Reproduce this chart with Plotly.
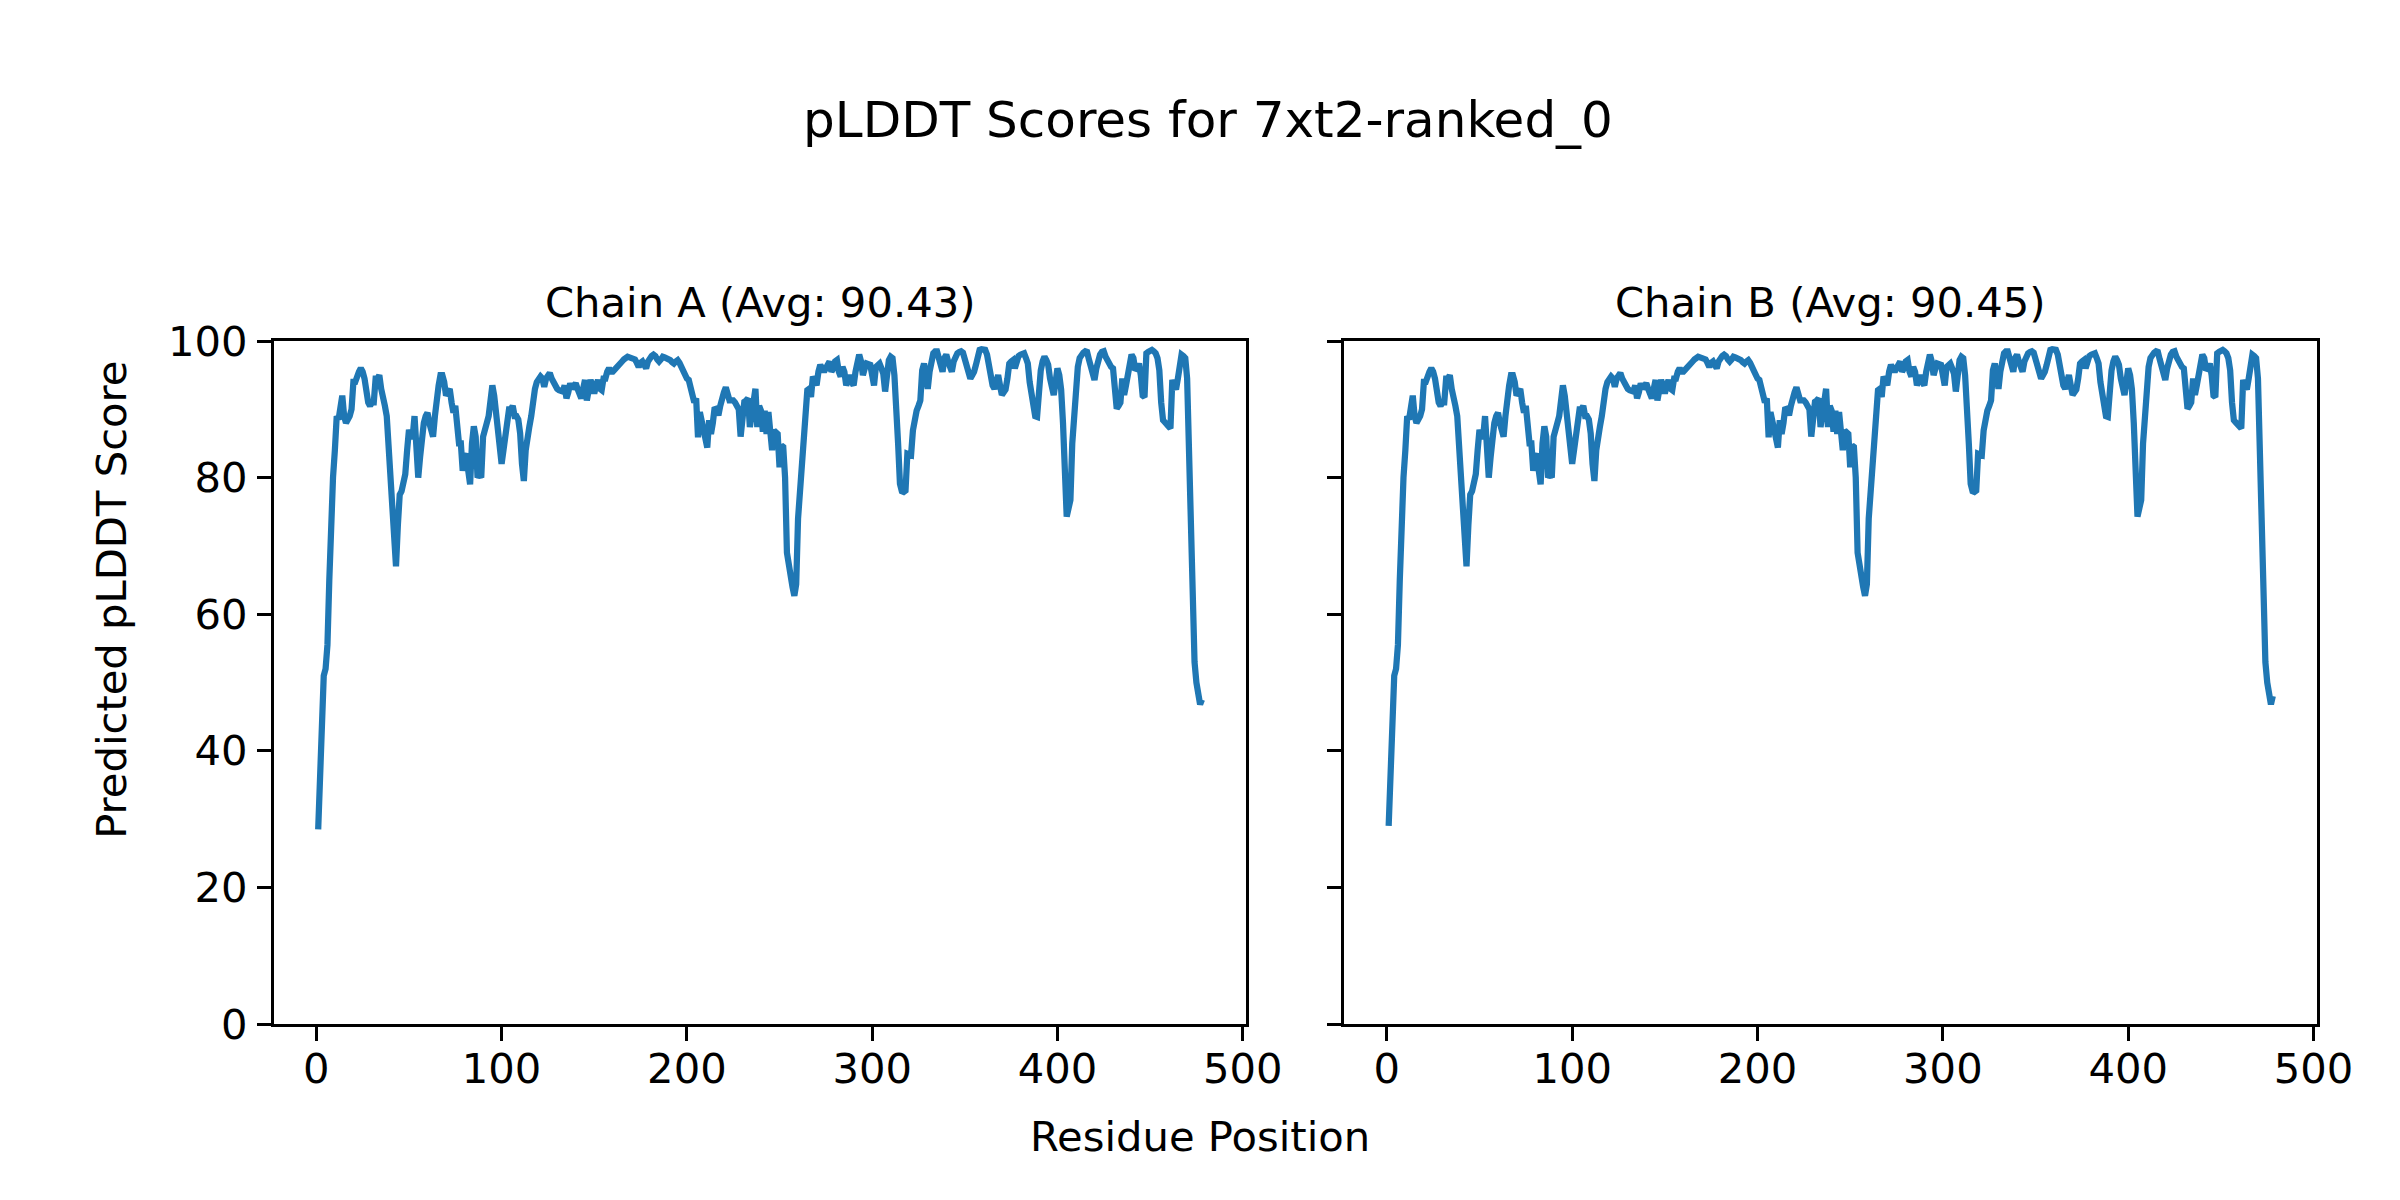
import plotly.graph_objects as go

# pLDDT per residue (residues 1..478)
chain_a_scores = [
    28.5, 37, 47, 51, 52, 55.5, 65, 76, 80, 84,
    89, 88.5, 90, 92, 89, 88, 88.5, 89, 90, 94,
    94, 95, 95.5, 96, 95.5, 94.5, 92, 91, 90.5, 91,
    91, 94.5, 94.5, 95, 93, 91, 90.5, 89, 85, 81,
    76, 71, 67, 73, 77.5, 78, 79, 80.5, 84, 87,
    86, 86, 89, 82, 80, 83, 87, 88, 89, 89.5,
    88, 86.5, 86, 89, 92, 93.5, 95, 95, 94, 92,
    92.5, 93, 91, 89.5, 90.5, 87, 85, 85, 81, 83,
    83.5, 81, 79, 85, 87.5, 86, 80, 80.5, 80, 86,
    87.5, 88, 89, 92.5, 93.5, 92, 89, 86, 83, 82,
    84, 86, 89.5, 90, 90, 90.5, 89, 89, 88.5, 86.5,
    82, 79.5, 84, 87, 87.5, 89, 91.5, 93, 94, 94.5,
    94.8, 94.5, 93.3, 94.5, 95, 95.3, 94.5, 93.8, 93.3, 93,
    92.8, 92.8, 92.6, 93.5, 91.6, 92.5, 93.8, 93, 93.3, 93.8,
    93, 92.5, 91.6, 93, 94.3, 91.3, 92.5, 94.3, 93.5, 92.3,
    93.5, 94.3, 93, 92.8, 94.5, 94.5, 95.5, 96, 95.5, 95.5,
    95.8, 96.2, 96.5, 97, 97, 97.3, 97.6, 97.7, 97.6, 97.5,
    97.5, 97.3, 96.8, 96.2, 96.8, 97, 96.5, 96, 97, 97.5,
    97.8, 98, 97.8, 97.3, 97, 97.3, 97.7, 97.6, 97.5, 97.5,
    97.2, 96.9, 96.7, 97, 97.2, 96.8, 96.2, 95.8, 94.8, 94.5,
    94.3, 93, 91.3, 91, 91.6, 85.9, 89.6, 88, 86.4, 85,
    84.4, 88.4, 86.4, 88, 90.3, 90, 89.1, 90.5, 91.8, 92.5,
    93.2, 92, 91.3, 91.3, 91.3, 91, 90.6, 90, 86, 88,
    91.1, 91.3, 91.6, 87.4, 89.5, 91, 93, 87.4, 90.5, 89.8,
    86.7, 89.8, 86.4, 89.6, 87, 84, 86.9, 86.5, 86.4, 81.5,
    84.7, 84.5, 80, 69, 67, 65.5, 64, 62.7, 64.4, 74,
    78.5, 80.6, 86.9, 91, 92.8, 93, 91.8, 94.8, 94, 93.5,
    95.5, 96.5, 96, 95.5, 96, 96.5, 97, 95.5, 96, 97,
    97.2, 95.5, 94.8, 96.2, 95.5, 93.5, 94.5, 95, 94, 93.5,
    95.5, 97.5, 98, 97, 95, 96, 96.7, 96.6, 96.5, 95,
    93.5, 96.2, 96.5, 96.7, 96, 95.2, 92.6, 95.5, 97.2, 97.7,
    97.5, 95, 91.3, 85, 79.1, 78, 77.9, 78.1, 83.5, 83.5,
    83.3, 86.9, 89, 89.8, 90.5, 91.3, 95.7, 96.7, 95, 93,
    95.5, 97.7, 98.2, 98.5, 98.5, 97.5, 96, 95.5, 97.5, 98,
    97, 96, 95.5, 97, 98, 98.2, 98.4, 98.5, 98.3, 97.5,
    96.7, 95.5, 94.5, 95, 95.5, 96.5, 97.8, 98.7, 98.8, 98.8,
    98.7, 98, 96.5, 94.3, 93.5, 93, 94.5, 95, 93.5, 92.1,
    92.5, 92.9, 94.5, 96.7, 97, 97.2, 96, 97, 97.8, 98,
    98.2, 98.2, 97.5, 96.7, 94, 91.8, 90, 89, 88.9, 93,
    95.7, 97, 97.7, 97.2, 96.5, 94.5, 93, 92.1, 94, 96,
    95, 92.9, 88, 80, 74.3, 75.5, 76.7, 85, 89.4, 93.5,
    96.2, 97.5, 98, 98.3, 98.5, 98.4, 97.3, 96, 94.5, 94.3,
    96, 97.2, 98, 98.4, 98.5, 97.7, 97, 96.5, 96.2, 96,
    93, 90.1, 90.5, 91, 94.5, 92.1, 93.5, 95.2, 97, 98,
    97.5, 95.7, 96, 96.7, 95, 92, 91.8, 98.2, 98.4, 98.6,
    98.7, 98.5, 98.2, 97.5, 95.7, 91, 88.4, 88.1, 87.9, 87.5,
    87.2, 94.3, 93.5, 92.9, 94.5, 97, 98, 97.8, 97.5, 94.5,
    83, 70, 60, 53, 50, 47.5, 46.8, 47.5,
]

# Chain B reads identical to chain A except at the two ends
chain_b_scores = list(chain_a_scores)
chain_b_scores[0] = 29.0
chain_b_scores[-1] = 48.0

residues = list(range(1, len(chain_a_scores) + 1))

chain_titles = ["Chain A (Avg: 90.43)", "Chain B (Avg: 90.45)"]
main_title = "pLDDT Scores for 7xt2-ranked_0"
x_label = "Residue Position"
y_label = "Predicted pLDDT Score"
x_ticks = [0, 100, 200, 300, 400, 500]
y_ticks = [0, 20, 40, 60, 80, 100]

FONT = "DejaVu Sans"
FS = 41.7
FS_TITLE = 50
LINE_COLOR = "#1f77b4"

fig = go.Figure()
fig.add_trace(go.Scatter(x=residues, y=chain_a_scores, mode="lines",
                         line=dict(color=LINE_COLOR, width=6.25),
                         xaxis="x", yaxis="y", showlegend=False))
fig.add_trace(go.Scatter(x=residues, y=chain_b_scores, mode="lines",
                         line=dict(color=LINE_COLOR, width=6.25),
                         xaxis="x2", yaxis="y2", showlegend=False))

OFF = 8  # page body offset
L, R, T, B = 274 - OFF, 2316.7 - OFF, 341 - OFF, 1024.3 - OFF
W = R - L
H = B - T
xa_dom = [0, (1246 - OFF - L) / W]
xb_dom = [(1344.3 - OFF - L) / W, 1]

pad = 0.05 * (len(residues) - 1)
xrange = [1 - pad, len(residues) + pad]

common_axis = dict(
    showline=True, linecolor="black", linewidth=3.3, mirror=True,
    ticks="outside", ticklen=14, tickwidth=3.3, tickcolor="black",
    showgrid=False, zeroline=False,
    tickfont=dict(family=FONT, size=FS, color="black"),
)
x_axis_style = dict(common_axis, ticklabelstandoff=-8)
y_axis_style = dict(common_axis, ticklabelstandoff=1)

fig.update_layout(
    width=2400, height=1200,
    margin=dict(l=L, r=2400 - R, t=T, b=1200 - B),
    paper_bgcolor="white", plot_bgcolor="white",
    font=dict(family=FONT, size=FS, color="black"),
    xaxis=dict(domain=xa_dom, range=xrange, tickvals=x_ticks, anchor="y", **x_axis_style),
    yaxis=dict(domain=[0, 1], range=[0, 100], tickvals=y_ticks, anchor="x", **y_axis_style),
    xaxis2=dict(domain=xb_dom, range=xrange, tickvals=x_ticks, anchor="y2", **x_axis_style),
    yaxis2=dict(domain=[0, 1], range=[0, 100], tickvals=y_ticks, anchor="x2",
                showticklabels=False, **y_axis_style),
    title=dict(text=main_title, x=0.5, xanchor="center", y=1 - (119 - OFF) / 1200,
               yanchor="middle", yref="container",
               font=dict(family=FONT, size=FS_TITLE, color="black")),
)

annotations = [
    dict(text=chain_titles[0], xref="x domain", yref="paper", x=0.5, y=(1024.3 - 302) / H,
         xanchor="center", yanchor="middle", showarrow=False,
         font=dict(family=FONT, size=FS, color="black")),
    dict(text=chain_titles[1], xref="x2 domain", yref="paper", x=0.5, y=(1024.3 - 302) / H,
         xanchor="center", yanchor="middle", showarrow=False,
         font=dict(family=FONT, size=FS, color="black")),
    dict(text=x_label, xref="paper", yref="paper", x=(1200 - 274) / W, y=(1024.3 - 1137) / H,
         xanchor="center", yanchor="middle", showarrow=False,
         font=dict(family=FONT, size=FS, color="black")),
    dict(text=y_label, xref="paper", yref="paper", x=(112 - 274) / W, y=(1024.3 - 600) / H,
         xanchor="center", yanchor="middle", showarrow=False, textangle=-90,
         font=dict(family=FONT, size=FS, color="black")),
]
fig.update_layout(annotations=annotations)

fig.write_html("out.html")
